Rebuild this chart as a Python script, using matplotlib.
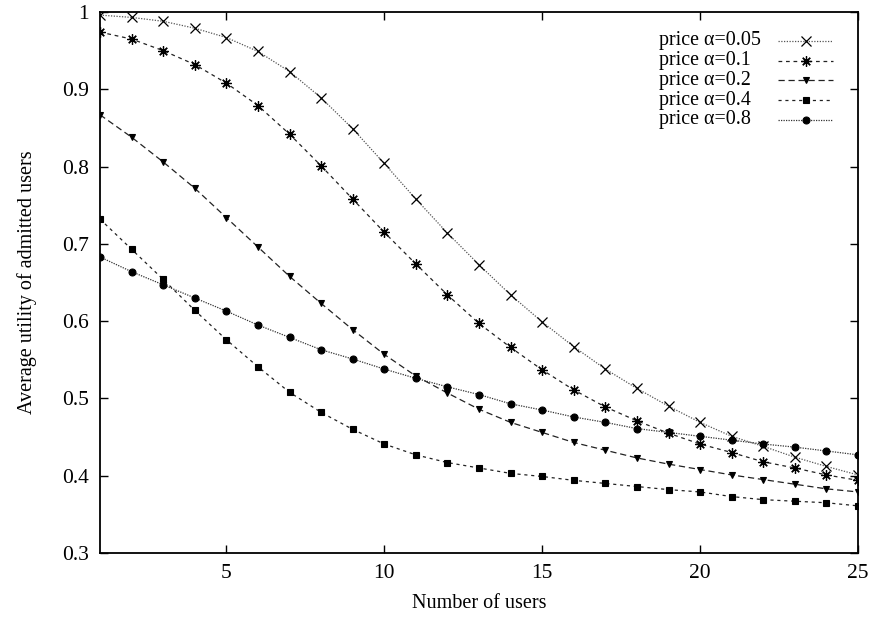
import matplotlib
matplotlib.use("Agg")
import matplotlib.pyplot as plt
from matplotlib.lines import Line2D

plt.rcParams['font.family'] = ['Liberation Serif', 'DejaVu Serif']

users = list(range(1, 26))
labels = ["price \u03b1=0.05", "price \u03b1=0.1", "price \u03b1=0.2", "price \u03b1=0.4", "price \u03b1=0.8"]

u_005 = [0.996, 0.993, 0.988, 0.979, 0.967, 0.949, 0.923, 0.889, 0.849, 0.804,
         0.758, 0.714, 0.673, 0.634, 0.599, 0.567, 0.538, 0.513, 0.490, 0.469,
         0.451, 0.438, 0.424, 0.412, 0.401]
u_01 = [0.974, 0.965, 0.950, 0.932, 0.908, 0.879, 0.842, 0.801, 0.758, 0.715,
        0.674, 0.634, 0.597, 0.566, 0.537, 0.511, 0.489, 0.471, 0.455, 0.441,
        0.430, 0.418, 0.410, 0.401, 0.394]
u_02 = [0.867, 0.838, 0.806, 0.772, 0.734, 0.696, 0.658, 0.623, 0.589, 0.557,
        0.529, 0.507, 0.486, 0.469, 0.456, 0.443, 0.433, 0.423, 0.415, 0.408,
        0.401, 0.395, 0.389, 0.383, 0.379]
u_04 = [0.732, 0.693, 0.654, 0.614, 0.576, 0.541, 0.508, 0.482, 0.460, 0.441,
        0.427, 0.417, 0.410, 0.403, 0.399, 0.394, 0.390, 0.386, 0.382, 0.379,
        0.373, 0.369, 0.367, 0.365, 0.361]
u_08 = [0.683, 0.664, 0.647, 0.630, 0.613, 0.595, 0.579, 0.563, 0.551, 0.538,
        0.526, 0.515, 0.505, 0.493, 0.485, 0.476, 0.469, 0.461, 0.456, 0.451,
        0.446, 0.441, 0.437, 0.432, 0.427]

series = [u_005, u_01, u_02, u_04, u_08]
styles = [
    dict(marker='x', ms=6.5, ls=(0, (1, 1.2)), color='#555555', mew=0.9),
    dict(marker=(8, 2, 0), ms=7.5, ls=(0, (3, 3)), color='#222222', mew=0.9),
    dict(marker='v', ms=5, ls=(0, (5, 3)), color='#222222', mew=0.8),
    dict(marker='s', ms=4.2, ls=(0, (2.5, 3)), color='#222222', mew=0.8),
    dict(marker='o', ms=5, ls=(0, (1, 1)), color='#333333', mew=0.8),
]
mcolor = 'black'

W, H = 872, 618
fig = plt.figure(figsize=(W / 100, H / 100), dpi=100)
ax = fig.add_axes([100 / W, 65 / H, 758 / W, 541 / H])

for ys, st in zip(series, styles):
    ax.plot(users, ys, linestyle=st['ls'], color=st['color'], lw=0.9,
            marker=st['marker'], markersize=st['ms'], markeredgewidth=st['mew'],
            markerfacecolor=mcolor, markeredgecolor=mcolor)

ax.set_xlim(1, 25)
ax.set_ylim(0.3, 1.0)
ax.set_xticks([5, 10, 15, 20, 25])
ax.set_yticks([0.3, 0.4, 0.5, 0.6, 0.7, 0.8, 0.9, 1.0])
ax.set_yticklabels(['0.3', '0.4', '0.5', '0.6', '0.7', '0.8', '0.9', '1'])
ax.tick_params(direction='in', length=6, width=1.0, top=True, right=True,
               labelsize=15.5, pad=8)
for s in ax.spines.values():
    s.set_linewidth(1.3)

ax.set_xlabel('Number of users', fontsize=14.5, labelpad=8)
ax.set_ylabel('Average utility of admitted users', fontsize=14.5, labelpad=18)

# legend, gnuplot style: left-aligned text, samples to the right
for i, (st, lab) in enumerate(zip(styles, labels)):
    ypx = 41 + i * 19.7
    yf = 1 - ypx / H
    fig.text(659 / W, yf, lab, fontsize=14.4, ha='left', va='center')
    fig.add_artist(Line2D([778 / W, 833 / W], [yf, yf], transform=fig.transFigure,
                          linestyle=st['ls'], color=st['color'], lw=0.9))
    fig.add_artist(Line2D([805.5 / W], [yf], transform=fig.transFigure,
                          linestyle='none', marker=st['marker'], markersize=st['ms'],
                          markeredgewidth=st['mew'], markerfacecolor=mcolor,
                          markeredgecolor=mcolor))

fig.savefig('out.png', dpi=100)
